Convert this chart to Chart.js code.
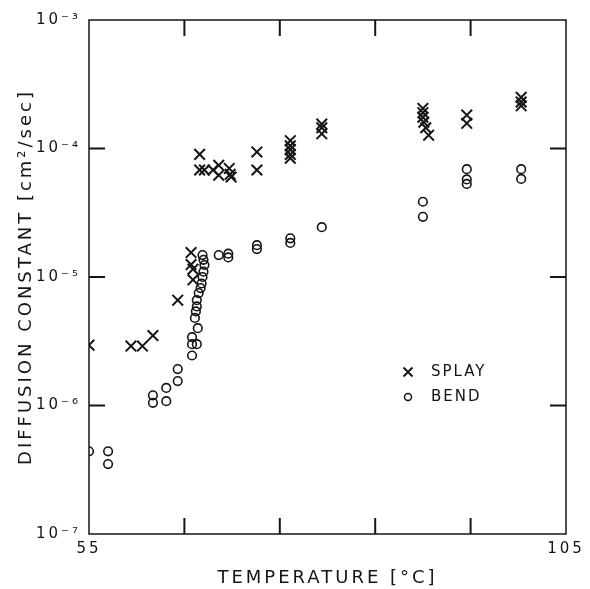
<!DOCTYPE html>
<html>
<head>
<meta charset="utf-8">
<script src="https://cdn.jsdelivr.net/npm/chart.js@4/dist/chart.umd.min.js"></script>
<style>
  html, body { margin: 0; padding: 0; background: #fff; }
  #chart { display: block; }
</style>
</head>
<body>
<canvas id="chart" width="590" height="589"></canvas>
<script>
// values
const splayTemp = [55.0, 59.4, 60.6, 61.7, 64.3, 65.7, 65.7, 65.9, 65.9,
    66.6, 66.6, 67.1, 68.0, 68.6, 68.6, 69.7, 69.8, 69.9, 72.6, 72.6,
    76.1, 76.1, 76.1, 76.1, 76.1, 79.4, 79.4, 79.4,
    90.0, 90.0, 90.0, 90.1, 90.3, 90.6, 94.6, 94.6, 100.3, 100.3, 100.3];
const splayDiff = [2.95e-6, 2.9e-6, 2.9e-6, 3.5e-6, 6.6e-6, 1.55e-5, 1.25e-5, 1.15e-5, 9.5e-6,
    9.0e-5, 6.8e-5, 6.8e-5, 6.8e-5, 7.4e-5, 6.2e-5, 7.0e-5, 6.3e-5, 6.0e-5, 9.4e-5, 6.8e-5,
    1.15e-4, 1.05e-4, 9.8e-5, 9.0e-5, 8.4e-5, 1.55e-4, 1.45e-4, 1.3e-4,
    2.05e-4, 1.9e-4, 1.75e-4, 1.6e-4, 1.45e-4, 1.27e-4, 1.82e-4, 1.57e-4, 2.5e-4, 2.3e-4, 2.15e-4];

const bendTemp = [55.0, 57.0, 57.0, 61.7, 61.7, 63.1, 63.1, 64.3, 64.3,
    65.8, 65.8, 66.3, 65.8, 66.4, 66.1, 66.2, 66.3, 66.3, 66.5, 66.7, 66.8, 66.9, 67.0, 67.1, 67.0, 66.9,
    68.6, 69.6, 69.6, 72.6, 72.6, 76.1, 76.1, 79.4,
    90.0, 90.0, 94.6, 94.6, 94.6, 100.3, 100.3];
const bendDiff = [4.4e-7, 4.4e-7, 3.5e-7, 1.2e-6, 1.05e-6, 1.37e-6, 1.08e-6, 1.92e-6, 1.55e-6,
    2.45e-6, 3.0e-6, 3.0e-6, 3.4e-6, 4.0e-6, 4.8e-6, 5.4e-6, 5.9e-6, 6.6e-6, 7.5e-6, 8.2e-6, 8.9e-6, 1.0e-5, 1.1e-5, 1.24e-5, 1.36e-5, 1.48e-5,
    1.48e-5, 1.52e-5, 1.42e-5, 1.77e-5, 1.65e-5, 2.0e-5, 1.84e-5, 2.44e-5,
    3.85e-5, 2.94e-5, 6.9e-5, 5.75e-5, 5.3e-5, 6.9e-5, 5.8e-5];

const xTicks = [55, 65, 75, 85, 95, 105];
const xTickLabels = ['55', '', '', '', '', '105'];
const yTicks = [1e-7, 1e-6, 1e-5, 1e-4, 1e-3];
const yTickLabels = ['10\u207B\u2077', '10\u207B\u2076', '10\u207B\u2075', '10\u207B\u2074', '10\u207B\u00B3'];

const ink = '#151515';
const fontFamily = '"DejaVu Sans", sans-serif';

function toPoints(xs, ys) {
    return xs.map((x, i) => ({ x: x, y: ys[i] }));
}

// spaced lettering like the original
const lettering = {
    id: 'lettering',
    beforeDraw(chart) {
        chart.ctx.letterSpacing = '3px';
    }
};

// box frame, inward ticks on all four sides, and the legend inside the plot
const frameAndTicks = {
    id: 'frameAndTicks',
    afterDraw(chart) {
        const { ctx, chartArea: a } = chart;
        const xs = chart.scales.x;
        const ys = chart.scales.y;
        const len = 16;
        ctx.save();
        ctx.strokeStyle = ink;
        ctx.lineWidth = 1.5;
        ctx.strokeRect(a.left, a.top, a.right - a.left, a.bottom - a.top);

        ctx.lineWidth = 2;
        ctx.beginPath();
        xTicks.slice(1, -1).forEach(v => {
            const px = xs.getPixelForValue(v);
            ctx.moveTo(px, a.bottom);
            ctx.lineTo(px, a.bottom - len);
            ctx.moveTo(px, a.top);
            ctx.lineTo(px, a.top + len);
        });
        yTicks.slice(1, -1).forEach(v => {
            const py = ys.getPixelForValue(v);
            ctx.moveTo(a.left, py);
            ctx.lineTo(a.left + len, py);
            ctx.moveTo(a.right, py);
            ctx.lineTo(a.right - len, py);
        });
        ctx.stroke();

        // legend
        const lx = 408, ly1 = 372, ly2 = 397;
        ctx.lineWidth = 2;
        ctx.beginPath();
        ctx.moveTo(lx - 4.5, ly1 - 4.5); ctx.lineTo(lx + 4.5, ly1 + 4.5);
        ctx.moveTo(lx + 4.5, ly1 - 4.5); ctx.lineTo(lx - 4.5, ly1 + 4.5);
        ctx.stroke();
        ctx.lineWidth = 1.5;
        ctx.beginPath();
        ctx.arc(lx, ly2, 3.5, 0, Math.PI * 2);
        ctx.stroke();

        ctx.fillStyle = ink;
        ctx.font = '15px ' + fontFamily;
        ctx.letterSpacing = '2px';
        ctx.textAlign = 'left';
        ctx.textBaseline = 'middle';
        ctx.fillText('SPLAY', 431, ly1);
        ctx.fillText('BEND', 431, ly2);
        ctx.restore();
    }
};

new Chart(document.getElementById('chart'), {
    type: 'scatter',
    data: {
        datasets: [
            {
                label: 'SPLAY',
                data: toPoints(splayTemp, splayDiff),
                pointStyle: 'crossRot',
                pointRadius: 7.5,
                pointHoverRadius: 7.5,
                borderWidth: 2,
                borderColor: ink,
                backgroundColor: ink
            },
            {
                label: 'BEND',
                data: toPoints(bendTemp, bendDiff),
                pointStyle: 'circle',
                pointRadius: 4.3,
                pointHoverRadius: 4.3,
                borderWidth: 1.6,
                borderColor: ink,
                backgroundColor: 'rgba(0,0,0,0)'
            }
        ]
    },
    options: {
        responsive: false,
        animation: false,
        layout: { padding: { top: 20, right: 24, left: 0, bottom: 0 } },
        plugins: {
            legend: { display: false },
            tooltip: { enabled: false }
        },
        scales: {
            x: {
                type: 'linear',
                min: 55,
                max: 105,
                afterBuildTicks: scale => {
                    scale.ticks = xTicks.map(v => ({ value: v }));
                },
                afterFit: scale => { scale.height = 55; },
                grid: { display: false, drawTicks: false },
                border: { display: false },
                ticks: {
                    color: ink,
                    padding: 6,
                    maxRotation: 0,
                    autoSkip: false,
                    font: { family: fontFamily, size: 15 },
                    callback: v => xTickLabels[xTicks.indexOf(v)]
                },
                title: {
                    display: true,
                    text: 'TEMPERATURE [°C]',
                    color: ink,
                    padding: { top: 0, bottom: 0 },
                    font: { family: fontFamily, size: 18 }
                }
            },
            y: {
                type: 'logarithmic',
                min: 1e-7,
                max: 1e-3,
                afterBuildTicks: scale => {
                    scale.ticks = yTicks.map(v => ({ value: v }));
                },
                afterFit: scale => { scale.width = 89; },
                grid: { display: false, drawTicks: false },
                border: { display: false },
                ticks: {
                    color: ink,
                    padding: 8,
                    autoSkip: false,
                    font: { family: fontFamily, size: 15 },
                    callback: function (v) {
                        const i = yTicks.findIndex(t => Math.abs(Math.log10(t) - Math.log10(v)) < 1e-6);
                        return i >= 0 ? yTickLabels[i] : '';
                    }
                },
                title: {
                    display: true,
                    text: 'DIFFUSION CONSTANT [cm²/sec]',
                    color: ink,
                    padding: { top: 16, bottom: 0 },
                    font: { family: fontFamily, size: 18 }
                }
            }
        }
    },
    plugins: [lettering, frameAndTicks]
});
</script>
</body>
</html>
